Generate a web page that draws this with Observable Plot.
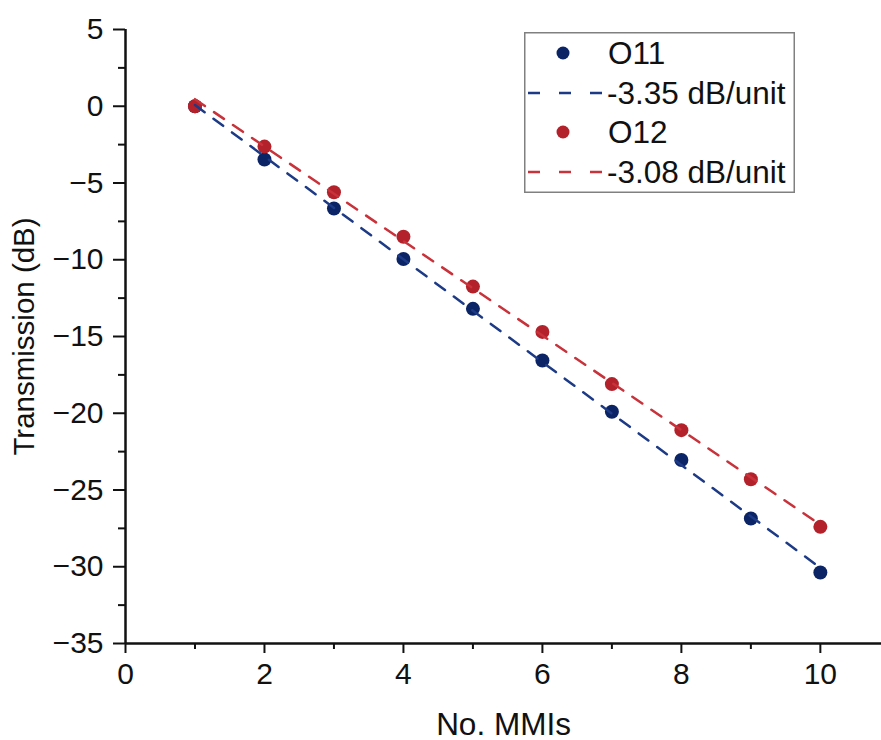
<!DOCTYPE html>
<html>
<head>
<meta charset="utf-8">
<script src="https://cdn.jsdelivr.net/npm/d3@7"></script>
<script src="https://cdn.jsdelivr.net/npm/@observablehq/plot@0.6"></script>
<style>
  html, body { margin: 0; padding: 0; background: #fff; }
  #wrap { position: relative; width: 881px; height: 740px; font-family: "Liberation Sans", Arial, sans-serif; }
  #legend { position: absolute; left: 524px; top: 32px; }
  #wrap g[aria-label="x-axis tick label"], #wrap g[aria-label="y-axis tick label"] { font-size: 30px; }
  #wrap g[aria-label="x-axis label"] { font-size: 31.5px; }
  #wrap g[aria-label="y-axis label"] { font-size: 29.5px; }
</style>
</head>
<body>
<div id="wrap"></div>
<script>
// ---- data ----
const mmis = [1, 2, 3, 4, 5, 6, 7, 8, 9, 10];
const o11 = [0, -3.47, -6.66, -9.95, -13.2, -16.56, -19.9, -23.05, -26.86, -30.37];
const o12 = [0, -2.63, -5.6, -8.5, -11.75, -14.7, -18.1, -21.1, -24.3, -27.4];
const fitX = [1, 10];
const fitO11 = [0.08, -30.07];
const fitO12 = [0.46, -27.26];
const seriesNames = ["O11", "O12"];
const fitLabels = ["-3.35 dB/unit", "-3.08 dB/unit"];
const colors = ["#0b2466", "#b3222a"];
const lineColors = ["#1c3a85", "#c8323a"];
const xMajor = [0, 2, 4, 6, 8, 10];
const xMinor = [1, 3, 5, 7, 9];
const yMajor = [5, 0, -5, -10, -15, -20, -25, -30, -35];
const yMinor = [2.5, -2.5, -7.5, -12.5, -17.5, -22.5, -27.5, -32.5];

const pts = [];
mmis.forEach((m, i) => { pts.push({x: m, y: o11[i], s: seriesNames[0]}); });
mmis.forEach((m, i) => { pts.push({x: m, y: o12[i], s: seriesNames[1]}); });
const fits = [];
fitX.forEach((x, i) => fits.push({x, y: fitO11[i], s: seriesNames[0]}));
fitX.forEach((x, i) => fits.push({x, y: fitO12[i], s: seriesNames[1]}));

const tickFs = 30;
const titleFs = 31.5;
const chart = Plot.plot({
  width: 881,
  height: 740,
  marginLeft: 125,
  marginRight: 0,
  marginTop: 29,
  marginBottom: 97,
  style: {fontFamily: "'Liberation Sans', Arial, sans-serif", fontSize: titleFs + "px", color: "#111", background: "#fff"},
  x: {domain: [0, 10.88]},
  y: {domain: [-35, 5]},
  marks: [
    Plot.axisX({ticks: xMajor, tickSize: 10, tickPadding: 9, strokeWidth: 2, tickFormat: d3.format("d"), fontSize: tickFs,
      label: "No. MMIs", labelAnchor: "center", labelOffset: 91, labelArrow: false}),
    Plot.axisX({ticks: xMinor, tickSize: 6, strokeWidth: 2, tickFormat: () => "", label: null}),
    Plot.axisY({ticks: yMajor, tickSize: 12, tickPadding: 10, strokeWidth: 2, fontSize: tickFs,
      label: "Transmission (dB)", labelAnchor: "center", labelOffset: 112, labelArrow: false}),
    Plot.axisY({ticks: yMinor, tickSize: 7, strokeWidth: 2, tickFormat: () => "", label: null}),
    Plot.ruleY([-35], {stroke: "#111", strokeWidth: 2.5}),
    Plot.ruleX([0], {stroke: "#111", strokeWidth: 2.5}),
    Plot.dot(pts, {x: "x", y: "y", r: 7, fill: d => colors[seriesNames.indexOf(d.s)], stroke: "none"}),
    Plot.line(fits, {x: "x", y: "y", z: "s", stroke: d => lineColors[seriesNames.indexOf(d.s)], strokeWidth: 2.5, strokeDasharray: "12,11"})
  ]
});
const wrap = document.getElementById("wrap");
wrap.appendChild(chart);

// legend
const lw = 271, lh = 161;
const leg = d3.create("svg").attr("id", "legend").attr("width", lw).attr("height", lh)
  .style("font-family", "'Liberation Sans', Arial, sans-serif");
leg.append("rect").attr("x", 0.75).attr("y", 0.75).attr("width", lw - 1.5).attr("height", lh - 1.5)
  .attr("fill", "#fff").attr("stroke", "#808080").attr("stroke-width", 1.5);
const rowsY = [21, 61, 100, 140];
seriesNames.forEach((name, i) => {
  const yd = rowsY[i * 2], yl = rowsY[i * 2 + 1];
  leg.append("circle").attr("cx", 39).attr("cy", yd).attr("r", 6.5).attr("fill", colors[i]);
  leg.append("text").attr("x", 84).attr("y", yd).attr("dy", "0.36em").attr("font-size", titleFs).attr("fill", "#111").text(name);
  leg.append("line").attr("x1", 4).attr("x2", 78).attr("y1", yl).attr("y2", yl)
    .attr("stroke", lineColors[i]).attr("stroke-width", 2.5).attr("stroke-dasharray", "12,19");
  leg.append("text").attr("x", 83).attr("y", yl).attr("dy", "0.36em").attr("font-size", titleFs).attr("fill", "#111").text(fitLabels[i]);
});
wrap.appendChild(leg.node());
</script>
</body>
</html>
